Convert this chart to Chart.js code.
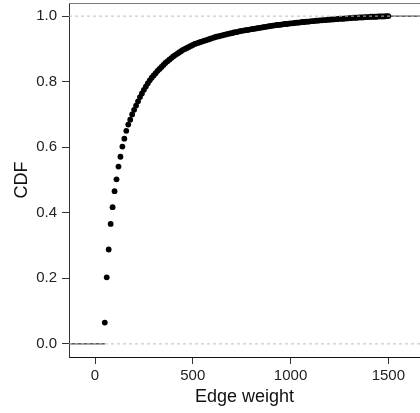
<!DOCTYPE html>
<html>
<head>
<meta charset="utf-8">
<script src="https://cdn.jsdelivr.net/npm/chart.js@4/dist/chart.umd.min.js"></script>
<style>
  html, body { margin: 0; padding: 0; background: #fff; }
  #wrap { width: 420px; height: 413px; }
</style>
</head>
<body>
<div id="wrap"><canvas id="c" width="420" height="413"></canvas></div>
<script>
const edgeWeights = [
  50,60,70,80,90,100,110,120,130,140,150,160,170,180,190,200,210,220,230,240,
  250,260,270,280,290,300,310,320,330,340,350,360,370,380,390,400,410,420,430,440,
  450,460,470,480,490,500,510,520,530,540,550,560,570,580,590,600,610,620,630,640,
  650,660,670,680,690,700,710,720,730,740,750,760,770,780,790,800,810,820,830,840,
  850,860,870,880,890,900,910,920,930,940,950,960,970,980,990,1000,1010,1020,1030,1040,
  1050,1060,1070,1080,1090,1100,1110,1120,1130,1140,1150,1160,1170,1180,1190,1200,1210,1220,1230,1240,
  1250,1260,1270,1280,1290,1300,1310,1320,1330,1340,1350,1360,1370,1380,1390,1400,1410,1420,1430,1440,
  1450,1460,1470,1480,1490,1500
];
const cdfValues = [
  0.065,0.203,0.288,0.366,0.417,0.466,0.502,0.541,0.571,0.602,0.626,0.650,0.669,0.684,0.700,0.714,0.727,0.740,0.753,0.764,
  0.775,0.785,0.795,0.804,0.812,0.819,0.826,0.833,0.839,0.845,0.851,0.857,0.862,0.867,0.872,0.877,0.881,0.885,0.889,0.893,
  0.897,0.900,0.903,0.906,0.909,0.912,0.915,0.917,0.919,0.921,0.923,0.925,0.927,0.929,0.931,0.933,0.935,0.937,0.938,0.940,
  0.941,0.943,0.944,0.946,0.947,0.948,0.950,0.951,0.952,0.954,0.955,0.956,0.957,0.958,0.959,0.960,0.961,0.962,0.963,0.964,
  0.965,0.966,0.967,0.968,0.969,0.970,0.971,0.972,0.973,0.973,0.974,0.975,0.976,0.976,0.977,0.978,0.978,0.979,0.980,0.980,
  0.981,0.982,0.982,0.983,0.983,0.984,0.985,0.985,0.986,0.986,0.987,0.987,0.988,0.988,0.989,0.989,0.990,0.990,0.991,0.991,
  0.992,0.992,0.992,0.993,0.993,0.994,0.994,0.995,0.995,0.995,0.996,0.996,0.996,0.997,0.997,0.997,0.998,0.998,0.998,0.998,
  0.999,0.999,0.999,0.999,1.000,1.000
];
const xTickValues = [0, 500, 1000, 1500];
const yTickValues = [0, 0.2, 0.4, 0.6, 0.8, 1.0];
const referenceLevels = [0, 1];
const X_MIN = -133, X_MAX = 1662;
const Y_MIN = -0.04, Y_MAX = 1.04;

const FONT = "'Liberation Sans', Arial, Helvetica, sans-serif";

const points = edgeWeights.map((x, i) => ({ x: x, y: cdfValues[i] }));
const last = edgeWeights.length - 1;

const datasets = [];
// reference dashed lines (drawn on top)
referenceLevels.forEach(lv => {
  datasets.push({
    type: 'scatter', showLine: true,
    data: [{ x: X_MIN, y: lv }, { x: X_MAX, y: lv }],
    borderColor: '#bdbdbd', borderWidth: 1, borderDash: [3, 3],
    pointRadius: 0, order: 0
  });
});
// ECDF tails
datasets.push({
  type: 'scatter', showLine: true,
  data: [{ x: X_MIN, y: 0 }, { x: edgeWeights[0], y: 0 }],
  borderColor: '#000', borderWidth: 1, pointRadius: 0, order: 1
});
datasets.push({
  type: 'scatter', showLine: true,
  data: [{ x: edgeWeights[last], y: cdfValues[last] }, { x: X_MAX, y: cdfValues[last] }],
  borderColor: '#000', borderWidth: 1, pointRadius: 0, order: 1
});
// ECDF points
datasets.push({
  type: 'scatter',
  data: points,
  backgroundColor: '#000', borderColor: '#000', borderWidth: 0,
  pointRadius: 2.9, order: 2
});

const topBorder = {
  id: 'topBorder',
  afterDraw(chart) {
    const { ctx, chartArea } = chart;
    ctx.save();
    ctx.strokeStyle = '#777';
    ctx.lineWidth = 1;
    ctx.beginPath();
    ctx.moveTo(chartArea.left, chartArea.top + 0.5);
    ctx.lineTo(chartArea.right, chartArea.top + 0.5);
    ctx.stroke();
    ctx.restore();
  }
};

new Chart(document.getElementById('c'), {
  type: 'scatter',
  data: { datasets },
  plugins: [topBorder],
  options: {
    responsive: false,
    animation: false,
    layout: { autoPadding: false, padding: { top: 3, right: 0, left: 0, bottom: 0 } },
    plugins: { legend: { display: false }, tooltip: { enabled: false } },
    scales: {
      x: {
        type: 'linear', min: X_MIN, max: X_MAX,
        afterBuildTicks: s => { s.ticks = xTickValues.map(v => ({ value: v })); },
        afterFit: s => { s.height = 56; s.paddingLeft = 0; s.paddingRight = 0; },
        grid: { drawOnChartArea: false, tickLength: 7, tickColor: '#333', tickWidth: 1 },
        border: { display: true, color: '#111', width: 1 },
        ticks: { color: '#222', font: { family: FONT, size: 15 }, padding: 3, maxRotation: 0,
                 callback: v => String(v) },
        title: { display: true, text: 'Edge weight', color: '#111',
                 font: { family: FONT, size: 18 }, padding: { top: 0, bottom: 5 } }
      },
      y: {
        type: 'linear', min: Y_MIN, max: Y_MAX,
        afterBuildTicks: s => { s.ticks = yTickValues.map(v => ({ value: v })); },
        afterFit: s => { s.width = 69; s.paddingTop = 0; s.paddingBottom = 0; },
        grid: { drawOnChartArea: false, tickLength: 7, tickColor: '#333', tickWidth: 1 },
        border: { display: true, color: '#333', width: 1 },
        ticks: { color: '#222', font: { family: FONT, size: 15 }, padding: 5,
                 callback: v => Number(v).toFixed(1) },
        title: { display: true, text: 'CDF', color: '#111',
                 font: { family: FONT, size: 18 }, padding: { top: 11, bottom: 0 } }
      }
    }
  }
});
</script>
</body>
</html>
